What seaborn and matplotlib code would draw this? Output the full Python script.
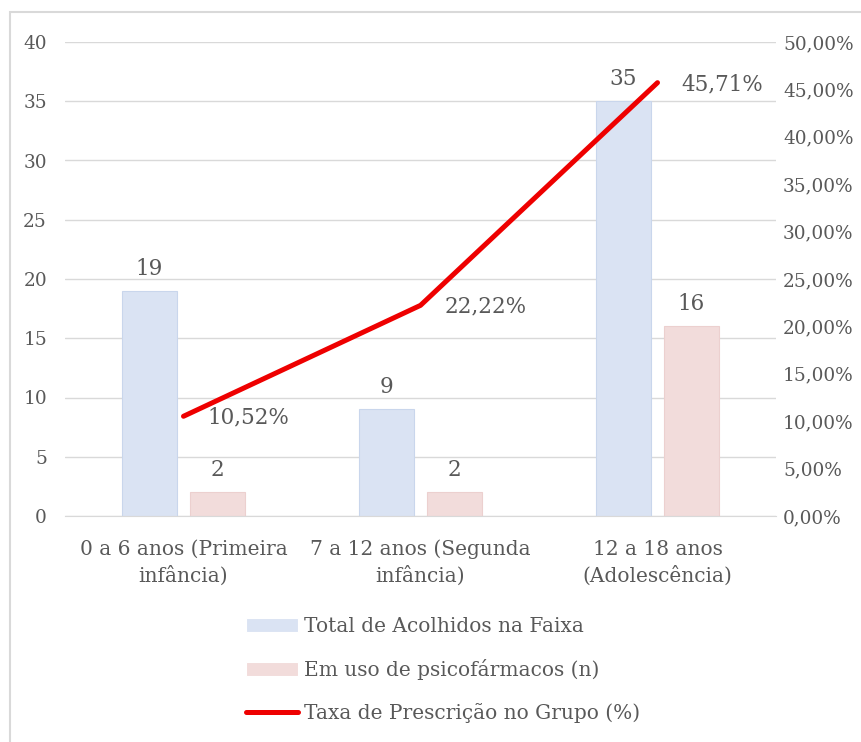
import pandas as pd
import matplotlib.pyplot as plt
import matplotlib.patches as mpatches
from matplotlib.ticker import FuncFormatter, MultipleLocator
import seaborn as sns

# dados do gráfico
categorias = ['0 a 6 anos (Primeira\ninfância)', '7 a 12 anos (Segunda\ninfância)', '12 a 18 anos\n(Adolescência)']
total_acolhidos = [19, 9, 35]
em_uso = [2, 2, 16]
taxa_prescricao = [10.52, 22.22, 45.71]
rotulos_taxa = ['10,52%', '22,22%', '45,71%']
serie_total = 'Total de Acolhidos na Faixa'
serie_uso = 'Em uso de psicofármacos (n)'
serie_taxa = 'Taxa de Prescrição no Grupo (%)'

sns.set_style('white')
plt.rcParams['font.family'] = ['DejaVu Serif']
cor_texto = '#595959'
cor_grade = '#d9d9d9'

df = pd.DataFrame({
    'faixa': categorias * 2,
    'valor': total_acolhidos + em_uso,
    'serie': [serie_total] * len(categorias) + [serie_uso] * len(categorias),
})

fig = plt.figure(figsize=(8.61, 7.42), dpi=100)
ax = fig.add_axes([65 / 861, 226 / 742, 711 / 861, 474 / 742])

sns.barplot(data=df, x='faixa', y='valor', hue='serie', palette=['#dae3f3', '#f2dcdb'],
            saturation=1, width=0.574, gap=0.2, ax=ax, linewidth=0.8)
for cont, ec in zip(ax.containers, ['#c9d6ec', '#ecd0cf']):
    for p in cont:
        p.set_edgecolor(ec)
    ax.bar_label(cont, padding=8, fontsize=15.5, color=cor_texto)

ax.set_xlim(-0.5, 2.5)
ax.set_ylim(0, 40)
ax.yaxis.set_major_locator(MultipleLocator(5))
ax.yaxis.grid(True, color=cor_grade, lw=1)
ax.set_axisbelow(True)
ax.set_xlabel('')
ax.set_ylabel('')
for s in ['top', 'right', 'left']:
    ax.spines[s].set_visible(False)
ax.spines['bottom'].set_color(cor_grade)
ax.tick_params(axis='both', colors=cor_texto, length=0, labelsize=13.3)
ax.tick_params(axis='x', labelsize=14.5, pad=17)
ax.tick_params(axis='y', pad=13)
for t in ax.get_xticklabels():
    t.set_linespacing(1.4)

# eixo secundário com a taxa
ax2 = ax.twinx()
sns.lineplot(x=categorias, y=taxa_prescricao, sort=False, color='#ee0000', linewidth=3.6,
             ax=ax2, label=serie_taxa)
ax2.lines[0].set_solid_capstyle('round')
ax2.set_ylim(0, 50)
ax2.yaxis.set_major_locator(MultipleLocator(5))
ax2.yaxis.set_major_formatter(FuncFormatter(lambda v, p: f'{v:.2f}%'.replace('.', ',')))
ax2.tick_params(axis='y', colors=cor_texto, length=0, labelsize=13.3, pad=5)
for s in ax2.spines.values():
    s.set_visible(False)
ax2.set_ylabel('')
for cat, v, r in zip(categorias, taxa_prescricao, rotulos_taxa):
    ax2.annotate(r, (cat, v), xytext=(17, -1), textcoords='offset points',
                 ha='left', va='center', fontsize=15.5, color=cor_texto)

h1, l1 = ax.get_legend_handles_labels()
h2, l2 = ax2.get_legend_handles_labels()
if ax.get_legend():
    ax.get_legend().remove()
if ax2.get_legend():
    ax2.get_legend().remove()
fig.legend(h1 + h2, l1 + l2, loc='center', bbox_to_anchor=(443 / 861, 1 - 670 / 742),
           frameon=False, fontsize=14.5, labelspacing=1.12, handlelength=2.6,
           handletextpad=0.3, labelcolor=cor_texto)

# moldura da área do gráfico
fig.add_artist(mpatches.Rectangle((10 / 861, -0.05), 1.2, 1 - 12 / 742 + 0.05,
                                  transform=fig.transFigure, fill=False,
                                  edgecolor=cor_grade, lw=1.5))

fig.savefig('out.png', dpi=100)
